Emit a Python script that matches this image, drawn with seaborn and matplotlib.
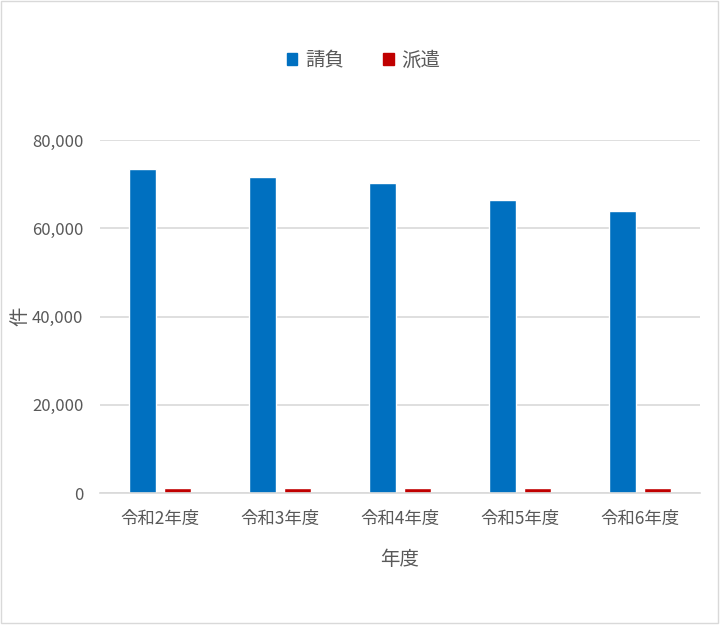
import pandas as pd
import matplotlib.pyplot as plt
import matplotlib.patches as mpatches
import seaborn as sns

# data
years = ["令和2年度", "令和3年度", "令和4年度", "令和5年度", "令和6年度"]
ukeoi = [73400, 71700, 70200, 66400, 63900]
haken = [1200, 1200, 1200, 1200, 1200]
series_names = ["請負", "派遣"]

df = pd.DataFrame({
    "年度": years * 2,
    "件数": ukeoi + haken,
    "区分": [series_names[0]] * len(years) + [series_names[1]] * len(years),
})

sns.set_theme(style="white")
plt.rcParams['font.family'] = ['Noto Sans CJK JP', 'DejaVu Sans']
text_color = "#595959"

fig = plt.figure(figsize=(7.2, 6.25), dpi=100)
ax = fig.add_axes([0.139, 0.2112, 0.833, 0.5648])

sns.barplot(data=df, x="年度", y="件数", hue="区分", order=years,
            hue_order=series_names, palette=["#0070C0", "#C00000"],
            width=0.58, gap=0.23, saturation=1, ax=ax, legend=True)

ax.set_ylim(0, 80000)
ax.set_yticks(range(0, 80001, 20000))
ax.set_yticklabels([f"{v:,}" for v in range(0, 80001, 20000)])
ax.set_xlim(-0.5, len(years) - 0.5)
ax.yaxis.grid(True, color="#D9D9D9", linewidth=1.2)
ax.set_axisbelow(True)
for side in ["top", "right", "left"]:
    ax.spines[side].set_visible(False)
ax.spines["bottom"].set_color("#D9D9D9")
ax.spines["bottom"].set_linewidth(1.2)
ax.tick_params(axis="x", length=0, labelsize=12.5, labelcolor=text_color, pad=12.5)
ax.tick_params(axis="y", length=0, labelsize=12, labelcolor=text_color, pad=12)

ax.set_xlabel("年度", fontsize=14, color=text_color, labelpad=15)
ax.set_ylabel("件", fontsize=14, color=text_color, labelpad=1.5)

ax.get_legend().remove()
handles = [mpatches.Patch(color="#0070C0"), mpatches.Patch(color="#C00000")]
fig.legend(handles, series_names, loc="center", bbox_to_anchor=(0.505, 0.903),
           ncol=2, frameon=False, fontsize=14, handlelength=0.55, handleheight=0.55,
           handletextpad=0.4, columnspacing=2.0, labelcolor=text_color)

fig.patches.append(mpatches.Rectangle((0.001, 0.004), 0.996, 0.994,
                                      transform=fig.transFigure, fill=False,
                                      edgecolor="#D9D9D9", linewidth=1))

fig.savefig("out.png", dpi=100)
